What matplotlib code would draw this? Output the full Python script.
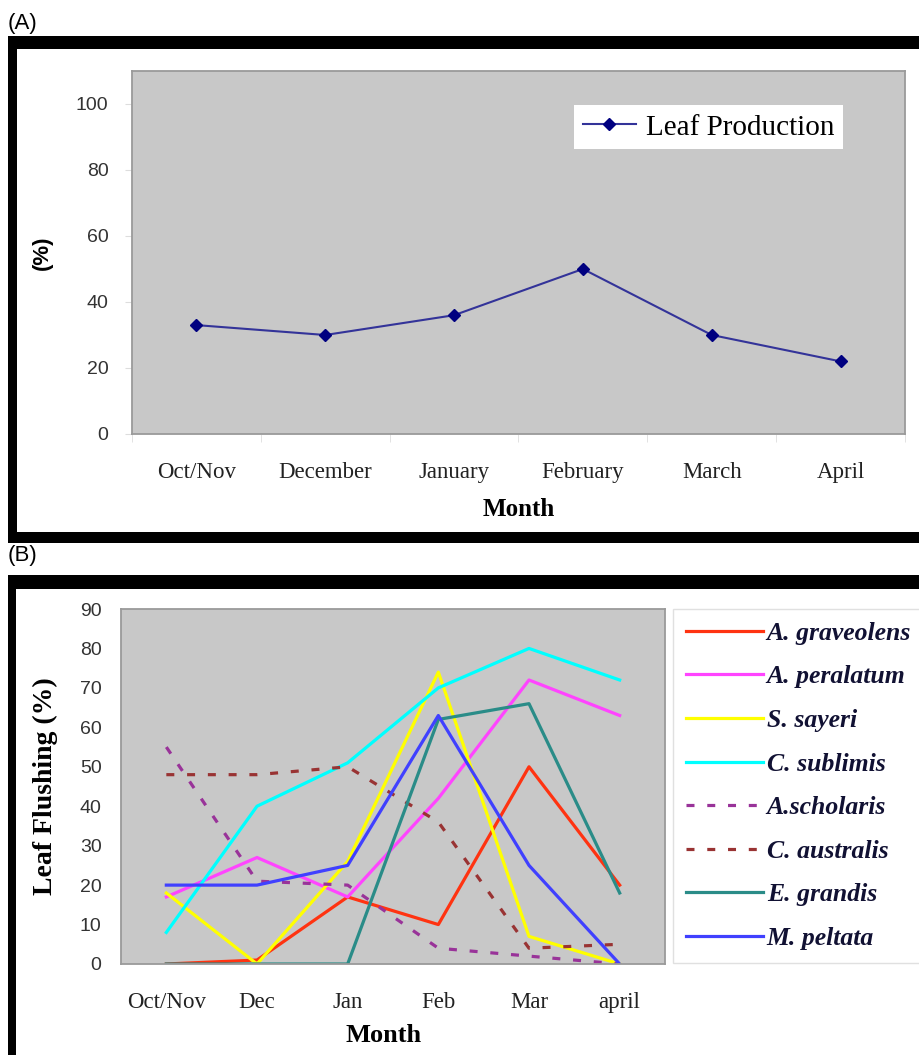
import matplotlib
matplotlib.use("Agg")
from matplotlib import pyplot as plt
from matplotlib.patches import Rectangle
import numpy as np

# Datos panel A
mesesA = ["Oct/Nov", "December", "January", "February", "March", "April"]
produccion = [33, 30, 36, 50, 30, 22]

# Datos panel B
mesesB = ["Oct/Nov", "Dec", "Jan", "Feb", "Mar", "april"]
especies = ["A. graveolens", "A. peralatum", "S. sayeri", "C. sublimis",
            "A.scholaris", "C. australis", "E. grandis", "M. peltata"]
graveolens = [0, 1, 17, 10, 50, 20]
peralatum = [17, 27, 17, 42, 72, 63]
sayeri = [18, 0, 26, 74, 7, 0]
sublimis = [8, 40, 51, 70, 80, 72]
scholaris = [55, 21, 20, 4, 2, 0]
australis = [48, 48, 50, 36, 4, 5]
grandis = [0, 0, 0, 62, 66, 18]
peltata = [20, 20, 25, 63, 25, 0]
seriesB = [graveolens, peralatum, sayeri, sublimis, scholaris, australis, grandis, peltata]
coloresB = ["#FF3311", "#FF44FF", "#FFFF00", "#00FFFF",
            "#993399", "#993333", "#2A8C88", "#4040FF"]
estilosB = ["-", "-", "-", "-", (0, (2.5, 4)), (0, (2.5, 4)), "-", "-"]

W, H = 920, 1055
serif = "Liberation Serif"
sans = "Liberation Sans"

fig = plt.figure(figsize=(W / 100, H / 100), dpi=100)
fig.patch.set_facecolor("white")


def caja(x0, y0, x1, y1, color):
    # rectangulo en pixeles (origen arriba a la izquierda)
    r = Rectangle((x0 / W, 1 - y1 / H), (x1 - x0) / W, (y1 - y0) / H,
                  transform=fig.transFigure, facecolor=color, edgecolor="none", zorder=-10)
    fig.patches.append(r)


def ejes(x0, y0, x1, y1):
    return fig.add_axes([x0 / W, 1 - y1 / H, (x1 - x0) / W, (y1 - y0) / H])


# Marcos negros
caja(8, 36, 940, 543, "black")
caja(17, 49, 940, 532, "white")
caja(8, 575, 940, 1070, "black")
caja(16, 589, 940, 1070, "white")

fig.text(8 / W, 1 - 13 / H, "(A)", fontsize=16, family=sans, va="top", ha="left")
fig.text(8 / W, 1 - 545 / H, "(B)", fontsize=16, family=sans, va="top", ha="left")


def estilo(ax):
    ax.set_facecolor("#C8C8C8")
    for s in ax.spines.values():
        s.set_color("#9A9A9A")
        s.set_linewidth(1.3)
    ax.set_xlim(-0.5, 5.5)


# Panel A
axA = ejes(132, 71, 905, 434)
estilo(axA)
x = np.arange(len(mesesA))
axA.plot(x, produccion, color="#333399", lw=1.5, marker="D", markersize=6,
         markerfacecolor="#000080", markeredgecolor="#000080", label="Leaf Production")
axA.set_ylim(0, 110)
axA.set_yticks([0, 20, 40, 60, 80, 100])
axA.set_xticks(x)
axA.set_xticklabels(mesesA, family=serif, fontsize=16.5, color="#222222")
axA.set_xticks(np.arange(-0.5, 6, 1), minor=True)
axA.tick_params(axis="x", which="major", length=0, pad=20)
axA.tick_params(axis="x", which="minor", length=6, color="#DDDDDD")
axA.tick_params(axis="y", length=5, color="#DDDDDD", pad=12, labelsize=14, labelcolor="#333333")
for t in axA.get_yticklabels():
    t.set_family(sans)
axA.set_xlabel("Month", family=serif, fontsize=18, fontweight="bold")
axA.xaxis.set_label_coords(0.5, -0.175)
axA.set_ylabel("(%)", family=sans, fontsize=16, fontweight="bold")
axA.yaxis.set_label_coords(-0.102, 0.5)
legA = axA.legend(loc="upper right", bbox_to_anchor=(0.92, 0.905), frameon=True,
                  fancybox=False, edgecolor="none", facecolor="white", framealpha=1,
                  prop={"family": serif, "size": 21}, handlelength=1.8,
                  handletextpad=0.35, borderpad=0.3, borderaxespad=0)

# Panel B
axB = ejes(121, 609, 665, 964)
estilo(axB)
x = np.arange(len(mesesB))
lineas = []
for vals, c, ls, nom in zip(seriesB, coloresB, estilosB, especies):
    l, = axB.plot(x, vals, color=c, lw=2.3, linestyle=ls, label=nom)
    lineas.append(l)
axB.set_ylim(0, 90)
axB.set_yticks(np.arange(0, 91, 10))
axB.set_xticks(x)
axB.set_xticklabels(mesesB, family=serif, fontsize=16.5, color="#222222")
axB.tick_params(axis="x", length=0, pad=20)
axB.tick_params(axis="y", length=0, pad=14, labelsize=14, labelcolor="#333333")
for t in axB.get_yticklabels():
    t.set_family(sans)
axB.set_xlabel("Month", family=serif, fontsize=19, fontweight="bold")
axB.xaxis.set_label_coords(0.482, -0.17)
axB.set_ylabel("Leaf Flushing (%)", family=serif, fontsize=20, fontweight="bold")
axB.yaxis.set_label_coords(-0.116, 0.5)

legB = fig.legend(handles=lineas, loc="upper left", bbox_to_anchor=(673 / W, 1 - 609 / H),
                  frameon=True, fancybox=False, edgecolor="#E0E0E0", facecolor="white",
                  framealpha=1, prop={"family": serif, "size": 18.5, "style": "italic", "weight": "bold"},
                  handlelength=3.0, handletextpad=0.15, borderpad=0.5,
                  labelspacing=0.8, borderaxespad=0)
for t in legB.get_texts():
    t.set_color("#111133")

fig.savefig("out.png", dpi=100)
